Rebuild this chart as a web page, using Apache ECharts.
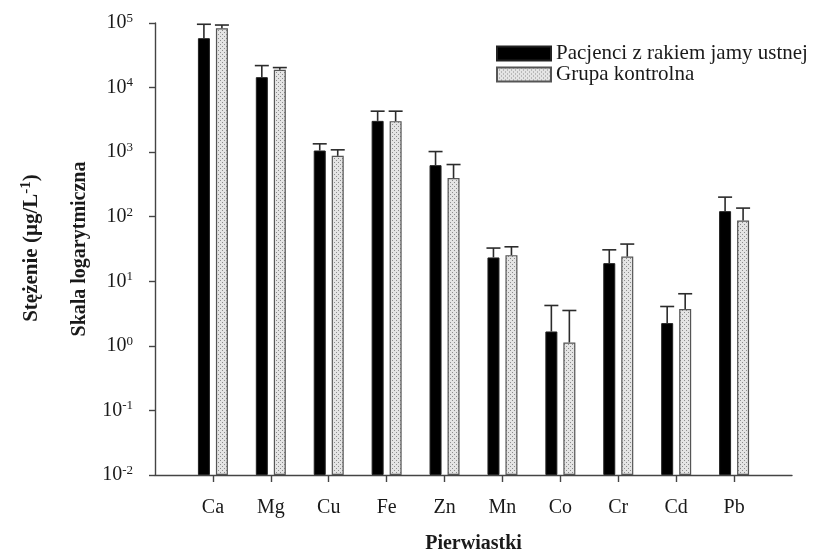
<!DOCTYPE html>
<html>
<head>
<meta charset="utf-8">
<script src="https://cdn.jsdelivr.net/npm/echarts@6/dist/echarts.min.js"></script>
<style>
html,body{margin:0;padding:0;background:#fff;}
#chart{width:817px;height:555px;}
</style>
</head>
<body>
<div id="chart"></div>
<script>
// ---- data ----
const categories = ['Ca','Mg','Cu','Fe','Zn','Mn','Co','Cr','Cd','Pb'];
const seriesNames = ['Pacjenci z rakiem jamy ustnej', 'Grupa kontrolna'];
const patients      = [58200, 14500, 1060, 3050, 629, 23.4, 1.67, 19.1, 2.25, 122];
const patientsUpper = [95600, 21900, 1345, 4310, 1021, 32.7, 4.22, 30.7, 4.07, 201];
const control       = [83000, 18800, 877, 3020, 396, 25.4, 1.13, 24.2, 3.71, 87.4];
const controlUpper  = [93000, 20400, 1086, 4310, 643, 34.2, 3.53, 37.7, 6.41, 136];
const yExponents = [-2, -1, 0, 1, 2, 3, 4, 5];

// ---- build ----
const FONT = 'Liberation Serif, Times New Roman, serif';
const axisCats = [''].concat(categories, ['']);
const pad = arr => [null].concat(arr, [null]);
const yMin = Math.pow(10, yExponents[0]);
const yMax = Math.pow(10, yExponents[yExponents.length-1]);

const tile = document.createElement('canvas');
tile.width = 4; tile.height = 4;
const tc = tile.getContext('2d');
tc.fillStyle = '#e4e4e4'; tc.fillRect(0,0,4,4);
tc.fillStyle = '#8c8c8c';
tc.fillRect(0,0,1,1); tc.fillRect(2,2,1,1);

function errSeries(values, uppers, offset){
  return {
    type: 'custom',
    z: 5,
    silent: true,
    data: values.map((v,i) => [i+1, uppers[i], v]),
    encode: {x: 0, y: [1, 2]},
    renderItem: (params, api) => {
      const idx = api.value(0), hi = api.value(1), v = api.value(2);
      const top = api.coord([idx, hi]);
      const bot = api.coord([idx, v]);
      const x = top[0] + offset;
      const st = {stroke: '#2b2b2b', lineWidth: 1.6};
      return {type:'group', children:[
        {type:'line', shape:{x1:x, y1:bot[1], x2:x, y2:top[1]}, style:st},
        {type:'line', shape:{x1:x-7, y1:top[1], x2:x+7, y2:top[1]}, style:st}
      ]};
    }
  };
}

const chart = echarts.init(document.getElementById('chart'), null, {renderer:'canvas'});
chart.setOption({
  animation: false,
  backgroundColor: '#fff',
  grid: {left: 155, right: 25, top: 23, bottom: 80, containLabel: false, outerBoundsMode: 'none'},
  legend: {
    data: seriesNames,
    orient: 'vertical',
    left: 491, top: 38,
    padding: 5,
    itemWidth: 54, itemHeight: 14, itemGap: 0,
    icon: 'rect',
    textStyle: {fontFamily: FONT, fontSize: 21, color: '#1a1a1a'},
    selectedMode: false
  },
  xAxis: {
    type: 'category',
    data: axisCats,
    boundaryGap: false,
    axisLine: {lineStyle: {color: '#444', width: 1.4}},
    axisTick: {show: true, length: 7, lineStyle: {color: '#444', width: 1.4},
               interval: (i, v) => v !== ''},
    axisLabel: {fontFamily: FONT, fontSize: 20, color: '#1a1a1a', margin: 23, interval: 0},
    name: 'Pierwiastki',
    nameLocation: 'middle',
    nameGap: 59,
    nameTextStyle: {fontFamily: FONT, fontSize: 20, fontWeight: 'bold', color: '#1a1a1a'}
  },
  yAxis: {
    type: 'log',
    logBase: 10,
    min: yMin,
    max: yMax,
    startValue: yMin,
    axisLine: {show: true, lineStyle: {color: '#444', width: 1.4}},
    axisTick: {show: true, length: 6, lineStyle: {color: '#444', width: 1.4}},
    splitLine: {show: false},
    minorTick: {show: false},
    axisLabel: {
      margin: 22,
      formatter: v => '{b|10}{s|' + Math.round(Math.log10(v)) + '}',
      rich: {
        b: {fontFamily: FONT, fontSize: 20, color: '#1a1a1a', lineHeight: 22},
        s: {fontFamily: FONT, fontSize: 13, color: '#1a1a1a', verticalAlign: 'top', lineHeight: 14}
      }
    },
    name: 'Skala logarytmiczna',
    nameLocation: 'middle',
    nameGap: 65,
    nameRotate: 90,
    nameTextStyle: {fontFamily: FONT, fontSize: 20, fontWeight: 'bold', color: '#1a1a1a'}
  },
  graphic: [{
    type: 'text',
    x: 32, y: 248,
    rotation: Math.PI/2,
    style: {
      text: '{t|Stężenie (µg/L}{s|-1}{t|)}',
      align: 'center', verticalAlign: 'middle',
      rich: {
        t: {fontFamily: FONT, fontSize: 21, fontWeight: 'bold', fill: '#1a1a1a', lineHeight: 26},
        s: {fontFamily: FONT, fontSize: 15, fontWeight: 'bold', fill: '#1a1a1a', verticalAlign: 'top', lineHeight: 15}
      }
    }
  }],
  series: [
    {
      name: seriesNames[0], type: 'bar', data: pad(patients),
      barWidth: 12, barGap: '50%',
      itemStyle: {color: '#000', borderColor: '#222', borderWidth: 1}
    },
    {
      name: seriesNames[1], type: 'bar', data: pad(control),
      barWidth: 12,
      itemStyle: {color: {image: tile, repeat: 'repeat'}, borderColor: '#555', borderWidth: 1.2}
    },
    errSeries(patients, patientsUpper, -9),
    errSeries(control, controlUpper, 9)
  ]
});
</script>
</body>
</html>
